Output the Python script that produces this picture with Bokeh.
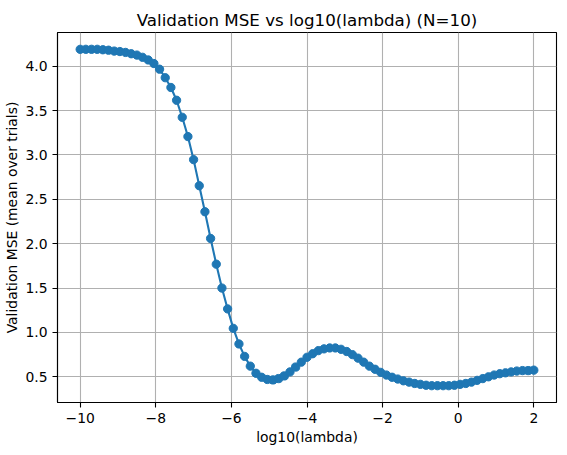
import numpy as np
from bokeh.plotting import figure
from bokeh.models import FixedTicker, Range1d
from bokeh.embed import file_html
from bokeh.resources import INLINE

# data
log_lambda = [round(-10 + 0.15 * i, 2) for i in range(81)]
val_mse = [
    4.19, 4.19, 4.19, 4.19, 4.185, 4.18, 4.17, 4.165, 4.155, 4.14,
    4.125, 4.10, 4.07, 4.03, 3.966, 3.87, 3.76, 3.616, 3.424, 3.207,
    2.947, 2.653, 2.36, 2.059, 1.769, 1.50, 1.265, 1.046, 0.87, 0.73,
    0.62, 0.54, 0.495, 0.47, 0.465, 0.48, 0.51, 0.555, 0.61, 0.665,
    0.72, 0.76, 0.795, 0.815, 0.825, 0.825, 0.81, 0.785, 0.75, 0.71,
    0.665, 0.62, 0.585, 0.55, 0.52, 0.495, 0.475, 0.455, 0.44, 0.425,
    0.415, 0.405, 0.40, 0.40, 0.40, 0.40, 0.405, 0.415, 0.425, 0.44,
    0.46, 0.48, 0.50, 0.52, 0.535, 0.545, 0.555, 0.565, 0.57, 0.57,
    0.575,
]
x_ticks = [-10, -8, -6, -4, -2, 0, 2]
x_tick_labels = ["\u221210", "\u22128", "\u22126", "\u22124", "\u22122", "0", "2"]
y_ticks = [0.5, 1.0, 1.5, 2.0, 2.5, 3.0, 3.5, 4.0]
y_tick_labels = ["0.5", "1.0", "1.5", "2.0", "2.5", "3.0", "3.5", "4.0"]

color = "#1f77b4"
font = "DejaVu Sans"

xmin, xmax = min(log_lambda), max(log_lambda)
ymin, ymax = min(val_mse), max(val_mse)
xpad = 0.05 * (xmax - xmin)
ypad = 0.05 * (ymax - ymin)

p = figure(
    width=558, height=447,
    output_backend="svg", toolbar_location=None,
    x_range=Range1d(xmin - xpad, xmax + xpad),
    y_range=Range1d(ymin - ypad, ymax + ypad),
    min_border_left=57, min_border_right=2,
    min_border_top=32, min_border_bottom=45,
    title="Validation MSE vs log10(lambda) (N=10)",
)

p.title.align = "center"
p.title.text_font = font
p.title.text_font_size = "16.7px"
p.title.text_font_style = "normal"
p.title.text_color = "black"
p.title.standoff = 6

p.outline_line_color = "black"
p.outline_line_width = 1.1
p.outline_line_alpha = 1.0

for ax, ticks, labels in ((p.xaxis[0], x_ticks, x_tick_labels), (p.yaxis[0], y_ticks, y_tick_labels)):
    ax.ticker = FixedTicker(ticks=ticks)
    ax.major_label_overrides = {t: l for t, l in zip(ticks, labels)}
    ax.minor_tick_line_color = None
    ax.major_tick_out = 5
    ax.major_tick_in = 0
    ax.major_tick_line_color = "black"
    ax.major_tick_line_width = 1.1
    ax.axis_line_color = "black"
    ax.axis_line_width = 1.1
    ax.major_label_text_font = font
    ax.major_label_text_font_size = "13.9px"
    ax.major_label_text_color = "black"
    ax.axis_label_text_font = font
    ax.axis_label_text_font_size = "13.9px"
    ax.axis_label_text_font_style = "normal"
    ax.axis_label_text_color = "black"
    ax.major_label_standoff = 5
    ax.axis_label_standoff = 3

p.xaxis.axis_label = "log10(lambda)"
p.yaxis.axis_label = "Validation MSE (mean over trials)"
p.yaxis.axis_label_standoff = 2

p.xgrid.ticker = FixedTicker(ticks=x_ticks)
p.ygrid.ticker = FixedTicker(ticks=y_ticks)
for g in (p.xgrid[0], p.ygrid[0]):
    g.grid_line_color = "#b0b0b0"
    g.grid_line_width = 1.1

p.line(log_lambda, val_mse, line_color=color, line_width=2.1)
p.scatter(log_lambda, val_mse, size=8.3, fill_color=color, line_color=color)

open("out.html", "w").write(file_html(p, INLINE))
